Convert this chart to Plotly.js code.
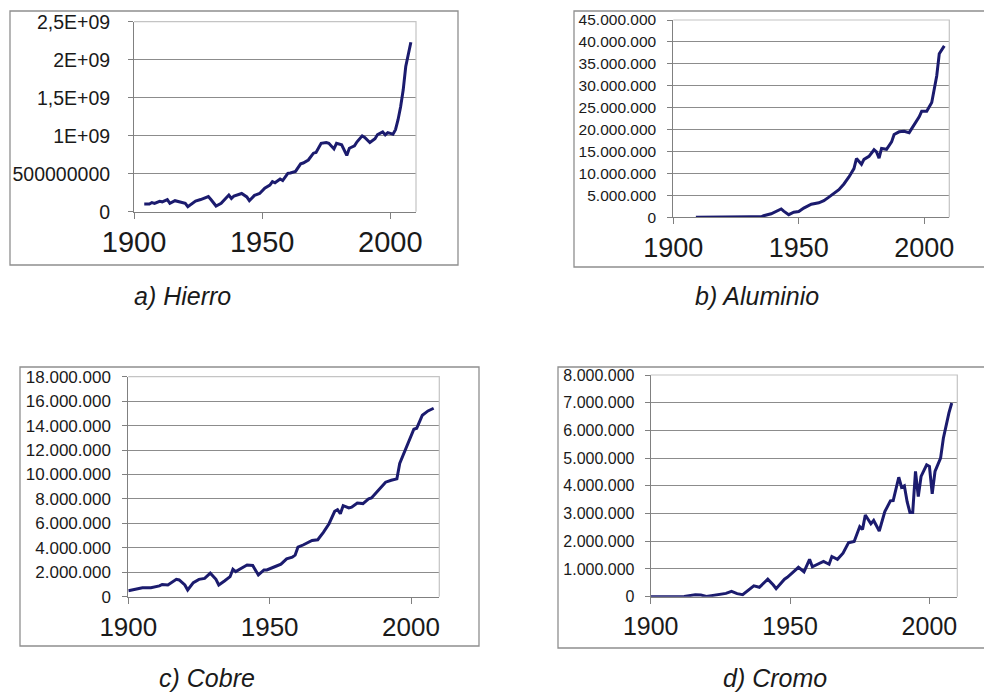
<!DOCTYPE html>
<html>
<head>
<meta charset="utf-8">
<script src="https://cdn.plot.ly/plotly-3.0.1.min.js"></script>
<style>
  html, body { margin: 0; padding: 0; background: #ffffff; }
  #chart { width: 984px; height: 692px; }
</style>
</head>
<body>
<div id="chart"></div>
<script>
// ---------------- DATA ----------------
const yearTicks = [1900, 1950, 2000];
const yearTickLabels = ['1900', '1950', '2000'];

// a) Hierro
const ironYears = [1904, 1906, 1907, 1908, 1910, 1911, 1913, 1914, 1916, 1918, 1920, 1921, 1923, 1924, 1926, 1929, 1930, 1932, 1934, 1936, 1937, 1938, 1939, 1942, 1944, 1945, 1947, 1949, 1951, 1953, 1954, 1955, 1957, 1958, 1960, 1961, 1963, 1965, 1966, 1968, 1970, 1971, 1973, 1975, 1976, 1978, 1979, 1981, 1983, 1984, 1986, 1987, 1989, 1990, 1992, 1994, 1995, 1997, 1998, 1999, 2001, 2002, 2003, 2004, 2005, 2006, 2008];
const ironValues = [1.0e8, 1.0e8, 1.2e8, 1.1e8, 1.36e8, 1.3e8, 1.6e8, 1.1e8, 1.45e8, 1.3e8, 1.1e8, 0.66e8, 1.2e8, 1.4e8, 1.6e8, 2.0e8, 1.6e8, 0.75e8, 1.1e8, 1.75e8, 2.2e8, 1.75e8, 2.07e8, 2.4e8, 1.95e8, 1.45e8, 2.15e8, 2.4e8, 3.1e8, 3.5e8, 3.96e8, 3.8e8, 4.3e8, 4.1e8, 5.05e8, 5.1e8, 5.3e8, 6.3e8, 6.4e8, 6.8e8, 7.7e8, 7.8e8, 9.0e8, 9.1e8, 9.0e8, 8.26e8, 9.0e8, 8.8e8, 7.4e8, 8.35e8, 8.66e8, 9.2e8, 9.98e8, 9.76e8, 9.1e8, 9.6e8, 1.015e9, 1.05e9, 1.01e9, 1.04e9, 1.02e9, 1.08e9, 1.21e9, 1.38e9, 1.6e9, 1.91e9, 2.23e9];
const ironTicks = [0, 5e8, 1e9, 1.5e9, 2e9, 2.5e9];
const ironTickLabels = ['0', '500000000', '1E+09', '1,5E+09', '2E+09', '2,5E+09'];

// b) Aluminio
const aluYears = [1909, 1926, 1931, 1935, 1936, 1939, 1941, 1943, 1944, 1946, 1948, 1950, 1952, 1955, 1958, 1960, 1962, 1964, 1966, 1968, 1970, 1972, 1973, 1975, 1976, 1978, 1980, 1981, 1982, 1983, 1985, 1987, 1988, 1990, 1992, 1994, 1996, 1998, 1999, 2001, 2003, 2004, 2005, 2006, 2008];
const aluValues = [0.01e6, 0.2e6, 0.15e6, 0.1e6, 0.35e6, 0.8e6, 1.3e6, 1.9e6, 1.4e6, 0.6e6, 1.15e6, 1.3e6, 2.1e6, 3.0e6, 3.3e6, 3.8e6, 4.6e6, 5.35e6, 6.3e6, 7.6e6, 9.2e6, 11.1e6, 13.4e6, 12.1e6, 13.2e6, 13.9e6, 15.4e6, 14.9e6, 13.5e6, 15.7e6, 15.5e6, 17.2e6, 18.9e6, 19.5e6, 19.6e6, 19.3e6, 21.2e6, 22.9e6, 24.2e6, 24.2e6, 26.2e6, 29.2e6, 32.3e6, 37.3e6, 39.1e6];
const aluTicks = [0, 5e6, 10e6, 15e6, 20e6, 25e6, 30e6, 35e6, 40e6, 45e6];
const aluTickLabels = ['0', '5.000.000', '10.000.000', '15.000.000', '20.000.000', '25.000.000', '30.000.000', '35.000.000', '40.000.000', '45.000.000'];

// c) Cobre
const copperYears = [1900, 1902, 1905, 1908, 1911, 1912, 1914, 1917, 1918, 1920, 1921, 1923, 1925, 1927, 1929, 1931, 1932, 1934, 1936, 1937, 1938, 1940, 1942, 1944, 1946, 1948, 1949, 1952, 1954, 1956, 1958, 1959, 1960, 1962, 1965, 1967, 1969, 1971, 1973, 1974, 1975, 1976, 1978, 1979, 1981, 1983, 1985, 1986, 1989, 1991, 1993, 1995, 1996, 1998, 2000, 2001, 2002, 2004, 2006, 2008];
const copperValues = [0.49e6, 0.6e6, 0.74e6, 0.74e6, 0.88e6, 1.0e6, 0.96e6, 1.42e6, 1.37e6, 0.96e6, 0.55e6, 1.15e6, 1.42e6, 1.5e6, 1.92e6, 1.42e6, 0.96e6, 1.29e6, 1.64e6, 2.25e6, 2.05e6, 2.33e6, 2.6e6, 2.55e6, 1.78e6, 2.19e6, 2.19e6, 2.47e6, 2.66e6, 3.1e6, 3.23e6, 3.4e6, 4.05e6, 4.25e6, 4.6e6, 4.66e6, 5.26e6, 5.97e6, 6.99e6, 7.12e6, 6.79e6, 7.45e6, 7.26e6, 7.32e6, 7.67e6, 7.62e6, 8.0e6, 8.08e6, 8.9e6, 9.37e6, 9.53e6, 9.64e6, 10.9e6, 12.05e6, 13.15e6, 13.7e6, 13.78e6, 14.85e6, 15.2e6, 15.42e6];
const copperTicks = [0, 2e6, 4e6, 6e6, 8e6, 10e6, 12e6, 14e6, 16e6, 18e6];
const copperTickLabels = ['0', '2.000.000', '4.000.000', '6.000.000', '8.000.000', '10.000.000', '12.000.000', '14.000.000', '16.000.000', '18.000.000'];

// d) Cromo
const chromeYears = [1900, 1907, 1912, 1916, 1918, 1920, 1924, 1927, 1929, 1931, 1933, 1935, 1937, 1939, 1942, 1944, 1945, 1948, 1949, 1951, 1953, 1955, 1957, 1958, 1961, 1962, 1964, 1965, 1967, 1969, 1971, 1973, 1975, 1976, 1977, 1979, 1980, 1982, 1984, 1986, 1987, 1989, 1990, 1991, 1992, 1993, 1994, 1995, 1996, 1997, 1999, 2000, 2001, 2002, 2004, 2005, 2007, 2008];
const chromeValues = [0, 0.01e6, 0.01e6, 0.07e6, 0.06e6, 0.01e6, 0.07e6, 0.12e6, 0.19e6, 0.11e6, 0.07e6, 0.24e6, 0.39e6, 0.34e6, 0.63e6, 0.42e6, 0.29e6, 0.63e6, 0.7e6, 0.88e6, 1.06e6, 0.9e6, 1.35e6, 1.08e6, 1.23e6, 1.27e6, 1.17e6, 1.45e6, 1.35e6, 1.57e6, 1.95e6, 1.99e6, 2.53e6, 2.43e6, 2.95e6, 2.63e6, 2.75e6, 2.37e6, 3.07e6, 3.46e6, 3.47e6, 4.31e6, 3.95e6, 4.0e6, 3.43e6, 3.04e6, 3.04e6, 4.52e6, 3.61e6, 4.34e6, 4.76e6, 4.7e6, 3.71e6, 4.52e6, 5.0e6, 5.72e6, 6.63e6, 6.99e6];
const chromeTicks = [0, 1e6, 2e6, 3e6, 4e6, 5e6, 6e6, 7e6, 8e6];
const chromeTickLabels = ['0', '1.000.000', '2.000.000', '3.000.000', '4.000.000', '5.000.000', '6.000.000', '7.000.000', '8.000.000'];

const captions = ['a) Hierro', 'b) Aluminio', 'c) Cobre', 'd) Cromo'];

// ---------------- STYLE / LAYOUT ----------------
const W = 984, H = 692;
const px = v => v / W;
const py = v => 1 - v / H;

const LINE = '#1b1b6e';
const FONT = 'Liberation Sans, Arial, sans-serif';
const TXT = '#1a1a1a';

// plot-area rectangles in pixels [left, top, right, bottom]
const areas = [
  [134, 21.7, 416, 211.7],
  [673.3, 20, 949.3, 217.3],
  [128.3, 376.7, 439.3, 596.7],
  [650.7, 375, 957.3, 596.7]
];
// outer frames [left, top, right, bottom]
const frames = [
  [10, 11, 458, 265],
  [574, 11, 990, 267],
  [20, 367, 479, 646],
  [558, 367, 990, 648]
];
const yFontSizes = [19.5, 15.5, 17, 16];
const xFontSizes = [29, 27, 26, 25];
const yStandoff = [14, 8, 8, 7];
const xStandoff = [-2, 0, 1, 1];
const captionPos = [[182, 296], [757, 296], [207, 678], [775, 678]];

const seriesX = [ironYears, aluYears, copperYears, chromeYears];
const seriesY = [ironValues, aluValues, copperValues, chromeValues];
const yTickVals = [ironTicks, aluTicks, copperTicks, chromeTicks];
const yTickText = [ironTickLabels, aluTickLabels, copperTickLabels, chromeTickLabels];

const traces = [];
const layout = {
  width: W, height: H,
  margin: {l: 0, r: 0, t: 0, b: 0},
  paper_bgcolor: '#ffffff',
  plot_bgcolor: '#ffffff',
  showlegend: false,
  shapes: [],
  annotations: []
};

for (let i = 0; i < 4; i++) {
  const sfx = i === 0 ? '' : String(i + 1);
  const a = areas[i];
  const yv = yTickVals[i];
  traces.push({
    type: 'scatter', mode: 'lines',
    x: seriesX[i], y: seriesY[i],
    xaxis: 'x' + sfx, yaxis: 'y' + sfx,
    line: {color: LINE, width: 3},
    hoverinfo: 'skip'
  });
  layout['xaxis' + sfx] = {
    domain: [px(a[0]), px(a[2])],
    anchor: 'y' + sfx,
    range: [1900, 2010],
    tickvals: yearTicks, ticktext: yearTickLabels,
    ticks: 'outside', ticklen: 6, tickcolor: '#808080', tickwidth: 1,
    showline: true, linecolor: '#808080', linewidth: 1,
    showgrid: false, zeroline: false,
    tickfont: {family: FONT, size: xFontSizes[i], color: TXT},
    ticklabelstandoff: xStandoff[i],
    fixedrange: true
  };
  layout['yaxis' + sfx] = {
    domain: [py(a[3]), py(a[1])],
    anchor: 'x' + sfx,
    range: [0, yv[yv.length - 1]],
    tickvals: yv, ticktext: yTickText[i],
    ticks: 'outside', ticklen: 5, tickcolor: '#808080', tickwidth: 1,
    showline: true, linecolor: '#808080', linewidth: 1,
    showgrid: true, gridcolor: '#8c8c8c', gridwidth: 1,
    zeroline: false,
    tickfont: {family: FONT, size: yFontSizes[i], color: TXT},
    ticklabelstandoff: yStandoff[i],
    fixedrange: true
  };
  // outer frame
  const f = frames[i];
  layout.shapes.push({
    type: 'rect', xref: 'paper', yref: 'paper',
    x0: px(f[0]), x1: px(f[2]), y0: py(f[3]), y1: py(f[1]),
    line: {color: '#8f8f8f', width: 1.3}, fillcolor: 'rgba(0,0,0,0)', layer: 'below'
  });
  // light plot-area border (top and right)
  layout.shapes.push({
    type: 'path', xref: 'paper', yref: 'paper',
    path: `M ${px(a[0])} ${py(a[1])} L ${px(a[2])} ${py(a[1])} L ${px(a[2])} ${py(a[3])}`,
    line: {color: '#c4c4c4', width: 1.2}, layer: 'above'
  });
  layout.annotations.push({
    text: captions[i], xref: 'paper', yref: 'paper',
    x: px(captionPos[i][0]), y: py(captionPos[i][1]),
    xanchor: 'center', yanchor: 'middle', showarrow: false,
    font: {family: FONT, size: 25, color: TXT, style: 'italic'}
  });
}

Plotly.newPlot('chart', traces, layout, {staticPlot: true, displayModeBar: false});
</script>
</body>
</html>
